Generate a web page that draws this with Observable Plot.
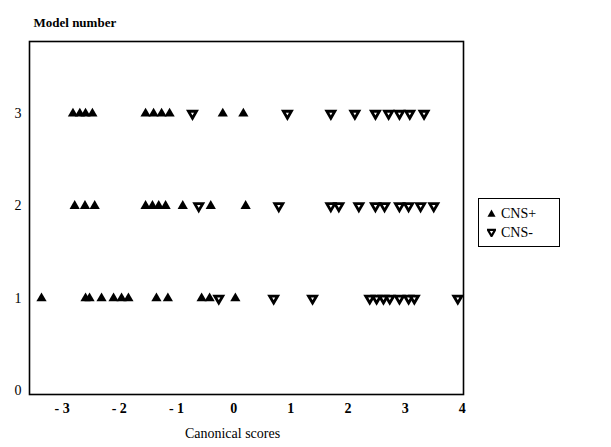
<!DOCTYPE html>
<html>
<head>
<meta charset="utf-8">
<script src="https://cdn.jsdelivr.net/npm/d3@7"></script>
<script src="https://cdn.jsdelivr.net/npm/@observablehq/plot@0.6"></script>
<style>
  body { margin: 0; background: #fff; }
  #wrap { position: relative; width: 611px; height: 447px; }
  #legend { position: absolute; left: 478px; top: 198px; width: 82px; height: 49px;
            border: 1.5px solid #000; font-family: "Liberation Serif", serif; font-size: 14px;
            box-sizing: border-box; padding: 5px 0 0 8px; line-height: 19px; }
  #legend svg { vertical-align: middle; margin-right: 5px; position: relative; top: -1px; }
</style>
</head>
<body>
<div id="wrap"><div id="chart"></div><div id="legend"></div></div>
<script>
const categories = ["CNS+", "CNS-"];
const models = [1, 2, 3];
const xTicks = [-3, -2, -1, 0, 1, 2, 3, 4];
const yTicks = [0, 1, 2, 3];

const model1Pos = [-3.36, -2.59, -2.52, -2.31, -2.10, -1.96, -1.84, -1.35, -1.15, -0.56, -0.42, 0.03];
const model1Neg = [-0.26, 0.70, 1.38, 2.38, 2.50, 2.62, 2.73, 2.90, 3.06, 3.16, 3.92];
const model2Pos = [-2.78, -2.60, -2.43, -1.54, -1.42, -1.31, -1.19, -0.89, -0.40, 0.21];
const model2Neg = [-0.61, 0.79, 1.70, 1.84, 2.19, 2.48, 2.64, 2.90, 3.06, 3.27, 3.50];
const model3Pos = [-2.81, -2.69, -2.59, -2.47, -1.54, -1.40, -1.26, -1.12, -0.19, 0.17];
const model3Neg = [-0.72, 0.94, 1.70, 2.12, 2.48, 2.71, 2.90, 3.08, 3.33];

const posByModel = [model1Pos, model2Pos, model3Pos];
const negByModel = [model1Neg, model2Neg, model3Neg];

const pos = [], neg = [];
models.forEach((m, i) => {
  posByModel[i].forEach(s => pos.push({score: s, model: m, group: categories[0]}));
  negByModel[i].forEach(s => neg.push({score: s, model: m, group: categories[1]}));
});

const triangleDown = {
  draw(ctx, size) {
    const y = -Math.sqrt(size / (Math.sqrt(3) * 3));
    ctx.moveTo(0, -y * 2);
    ctx.lineTo(-Math.sqrt(3) * y, y);
    ctx.lineTo(Math.sqrt(3) * y, y);
    ctx.closePath();
  }
};

const chart = Plot.plot({
  width: 611, height: 447,
  marginLeft: 29, marginRight: 148, marginTop: 41, marginBottom: 53,
  style: {fontFamily: "Liberation Serif, serif", fontSize: "14px", background: "#fff"},
  x: {domain: [-3.57, 4.02]},
  y: {domain: [-0.04, 3.78]},
  marks: [
    Plot.axisX({ticks: xTicks, tickFormat: d => d < 0 ? "- " + (-d) : String(d), tickSize: 0, tickPadding: 9, fontWeight: "bold", fontSize: 14, label: null}),
    Plot.axisY({ticks: yTicks, tickFormat: d3.format("d"), tickSize: 0, tickPadding: 8, fontSize: 14, label: null}),
    Plot.frame({stroke: "#000", strokeWidth: 1.6}),
    Plot.dot(neg, {x: "score", y: "model", symbol: triangleDown, r: 3.0, fill: "#fff", stroke: "#000", strokeWidth: 2.8, strokeLinejoin: "miter"}),
    Plot.dot(pos, {x: "score", y: "model", symbol: "triangle", r: 3.8, fill: "#000", stroke: "none"}),
    Plot.text(["Canonical scores"], {text: d => d, frameAnchor: "bottom", dy: 43, dx: -14, fontSize: 14, letterSpacing: "1.8px"}),
    Plot.text(["Model number"], {text: d => d, frameAnchor: "top-left", dy: -24, dx: 4, textAnchor: "start", fontSize: 13, fontWeight: "bold", letterSpacing: "1.2px"})
  ]
});
document.getElementById("chart").appendChild(chart);

const legend = document.getElementById("legend");
legend.innerHTML =
  '<div><svg width="9" height="9" viewBox="-5 -5 10 10"><path d="M0,-4.5L4.5,3.5L-4.5,3.5Z" fill="#000"/></svg>' + categories[0] + '</div>' +
  '<div><svg width="9" height="9" viewBox="-5 -5 10 10"><path d="M0,4L4,-3L-4,-3Z" fill="#fff" stroke="#000" stroke-width="2.4"/></svg>' + categories[1] + '</div>';
</script>
</body>
</html>
